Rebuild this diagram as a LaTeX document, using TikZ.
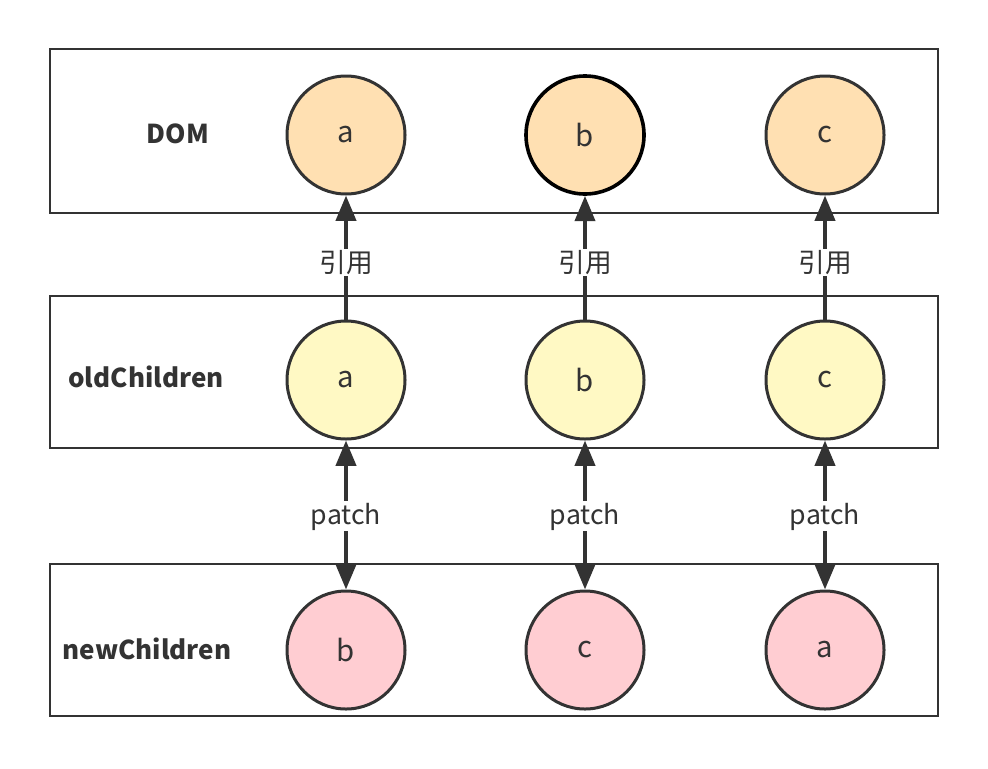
\documentclass[tikz,border=0pt]{standalone}
\usepackage{fontspec}
\setmainfont{Noto Sans CJK SC}
\usetikzlibrary{arrows.meta}
\definecolor{stk}{HTML}{333333}
\definecolor{domfill}{HTML}{FFE0B2}
\definecolor{oldfill}{HTML}{FFF9C4}
\definecolor{newfill}{HTML}{FFCDD2}
\tikzset{
  rowbox/.style={draw=stk, line width=1.5pt*0.75},
  circ/.style={circle, draw=stk, line width=3pt*0.75, minimum size=118*0.75pt, inner sep=0pt, text=stk, font=\fontsize{22}{25}\selectfont},
  rowlabel/.style={text=stk, font=\fontsize{19.5}{22}\selectfont\bfseries},
  tip/.style={Triangle[length=19pt,width=15pt]},
  conn/.style={draw=stk, line width=4*0.75pt, -{Triangle[length=19pt,width=15pt]}},
  dconn/.style={draw=stk, line width=4*0.75pt, {Triangle[length=19pt,width=15pt]}-{Triangle[length=19pt,width=15pt]}},
  elabel/.style={fill=white, text=stk, inner sep=1pt, font=\fontsize{20}{23}\selectfont},
}
\begin{document}
\begin{tikzpicture}[x=0.75pt,y=-0.75pt]
\useasboundingbox (0,0) rectangle (988,768);
\draw[rowbox] (50,49) rectangle (938,213);
\draw[rowbox] (50,296) rectangle (938,448);
\draw[rowbox] (50,564) rectangle (938,716);
\node[rowlabel] (ldom) at (178,134) {DOM};
\node[rowlabel] (lold) at (146,377) {oldChildren};
\node[rowlabel] (lnew) at (147,649) {newChildren};
\node[circ, fill=domfill] (da) at (346,135) {a};
\node[circ, fill=domfill, draw=black, line width=3.6pt*0.75] (db) at (585,135) {b};
\node[circ, fill=domfill] (dc) at (825,135) {c};
\node[circ, fill=oldfill] (oa) at (346,380) {a};
\node[circ, fill=oldfill] (ob) at (585,380) {b};
\node[circ, fill=oldfill] (oc) at (825,380) {c};
\node[circ, fill=newfill] (nb) at (346,650) {b};
\node[circ, fill=newfill] (nc) at (585,650) {c};
\node[circ, fill=newfill] (na) at (825,650) {a};
\foreach \o/\d in {oa/da, ob/db, oc/dc}{
  \draw[conn] (\o) -- node[elabel, pos=0.46] {引用} (\d);
}
\foreach \o/\n in {oa/nb, ob/nc, oc/na}{
  \draw[dconn] (\o) -- node[elabel, pos=0.51] {patch} (\n);
}
\end{tikzpicture}
\end{document}
